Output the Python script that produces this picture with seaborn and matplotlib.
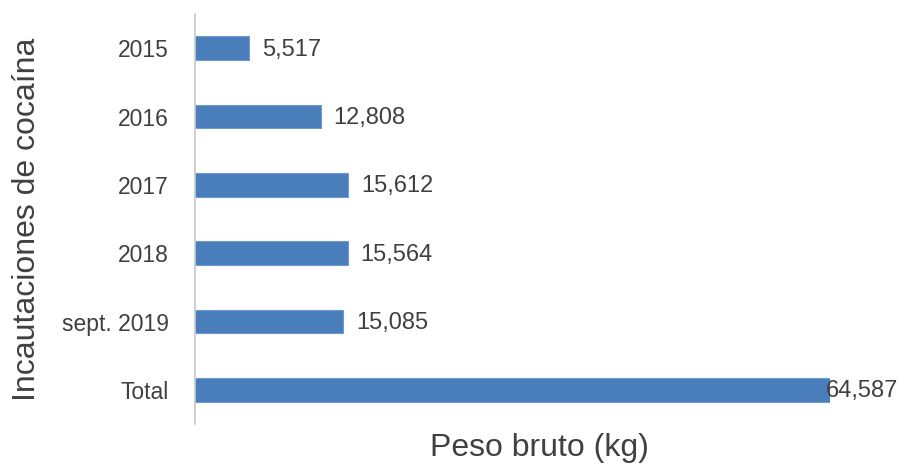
import matplotlib
matplotlib.use("Agg")
import matplotlib.pyplot as plt
import seaborn as sns
import pandas as pd

# Cocaine seizures by year, gross weight in kg
categories = ["2015", "2016", "2017", "2018", "sept. 2019", "Total"]
weights = [5517, 12808, 15612, 15564, 15085, 64587]

sns.set_theme(style="white")
plt.rcParams["font.family"] = ["Liberation Sans", "DejaVu Sans"]

df = pd.DataFrame({"periodo": categories, "peso": weights})

fig = plt.figure(figsize=(9.06, 4.65), dpi=100)
ax = fig.add_axes([195 / 906, 1 - 424 / 465, 635 / 906, 410 / 465])

bar_color = "#4a7ebb"
sns.barplot(data=df, x="peso", y="periodo", orient="h", color=bar_color,
            saturation=1, width=0.35, edgecolor="#6f9bd0", linewidth=0.8, ax=ax)

ax.set_xlim(0, max(weights))
ax.set_ylim(len(categories) - 0.5, -0.5)

text_color = "#404040"
for i, v in enumerate(weights):
    label = f"{v:,}"
    offset = -3 if v == max(weights) else 9
    ax.annotate(label, (v, i), xytext=(offset, -1), textcoords="offset points",
                va="center", ha="left", fontsize=17, color=text_color,
                annotation_clip=False)

for s in ["top", "right", "bottom"]:
    ax.spines[s].set_visible(False)
ax.spines["left"].set_color("#c8c8c8")
ax.spines["left"].set_linewidth(1.2)

ax.set_xticks([])
ax.tick_params(axis="y", length=0, pad=19, labelsize=16.5, labelcolor=text_color)

ax.set_xlabel("Peso bruto (kg)", fontsize=23, color=text_color)
ax.set_ylabel("Incautaciones de cocaína", fontsize=23, color=text_color,
              va="center")
ax.xaxis.set_label_coords(0.543, -0.022)
ax.yaxis.set_label_coords(-0.2646, 0.5)

fig.savefig("out.png", dpi=100, facecolor="white")
